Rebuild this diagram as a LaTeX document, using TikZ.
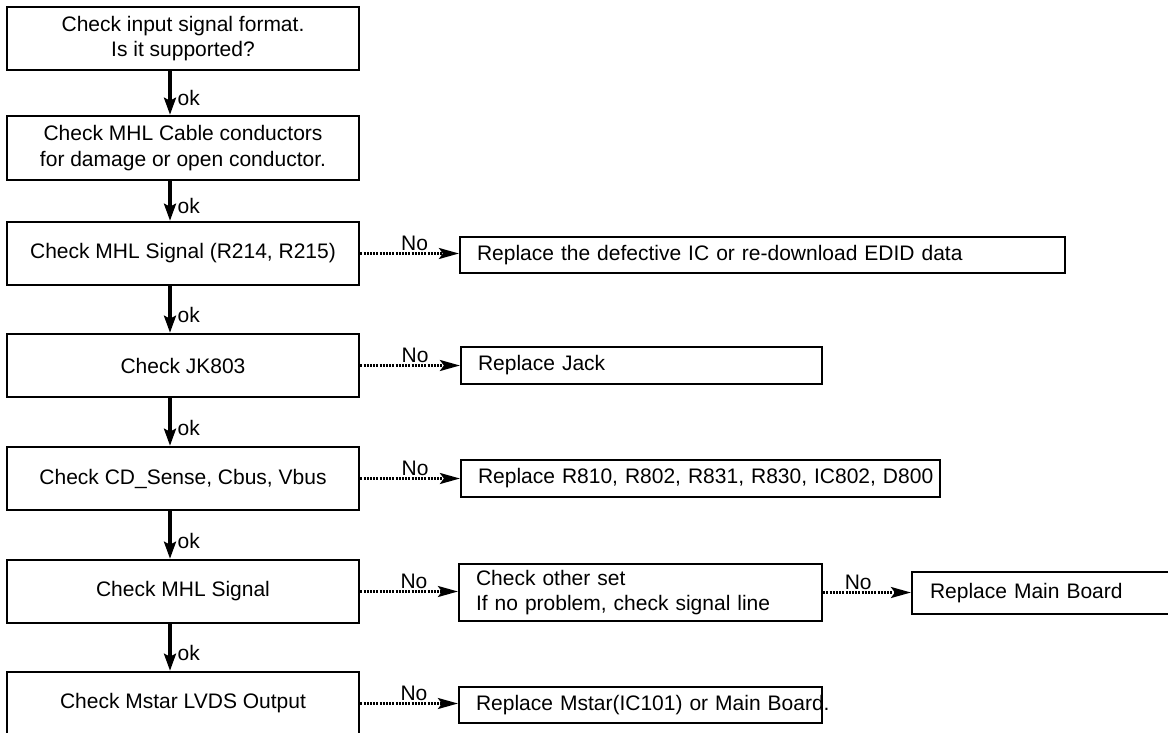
\documentclass[tikz,border=0pt]{standalone}
\usepackage{fontspec}
\setmainfont{Liberation Sans}
\usetikzlibrary{arrows.meta}
\begin{document}
\begin{tikzpicture}[x=1pt,y=-1pt,
  every node/.style={font=\fontsize{21}{25.5}\selectfont},
  lbox/.style={draw, line width=2.6pt, minimum width=352pt, minimum height=63pt, align=center, inner sep=0pt},
  rbox/.style={draw, line width=2.2pt, align=left, inner xsep=17pt, inner ysep=0pt},
  okarrow/.style={line width=3.2pt, -{Stealth[length=17pt,width=12pt,inset=3pt]}},
  noarrow/.style={line width=2.5pt, dash pattern=on 2pt off 1.2pt, -{Stealth[length=20pt,width=11pt,inset=4pt]}},
  oklabel/.style={anchor=west, inner sep=0pt, xshift=6pt},
  nolabel/.style={anchor=base, inner sep=0pt, yshift=3pt},
]
\useasboundingbox (0,0) rectangle (1168,733);

% left column
\node[lbox] (b1) at (183,38.5) {Check input signal format.\\Is it supported?};
\node[lbox, minimum height=64pt] (b2) at (183,148) {Check MHL Cable conductors\\for damage or open conductor.};
\node[lbox] (b3) at (183,253.5) {Check MHL Signal (R214, R215)};
\node[lbox] (b4) at (183,365.5) {Check JK803};
\node[lbox] (b5) at (183,478.5) {Check CD\_Sense, Cbus, Vbus};
\node[lbox] (b6) at (183,591.5) {Check MHL Signal};
\node[lbox] (b7) at (183,703.5) {Check Mstar LVDS Output};

% right boxes
\node[rbox, text width=571pt, minimum height=36pt] (r1) at (762.5,255) {\mbox{Replace the defective IC or re-download EDID data}};
\node[rbox, text width=327pt, minimum height=37pt] (r2) at (641.5,365.5) {Replace Jack};
\node[rbox, text width=445pt, minimum height=37pt] (r3) at (700.5,478.5) {\mbox{Replace R810, R802, R831, R830, IC802, D800}};
\node[rbox, text width=329pt, minimum height=57pt] (r4) at (640.5,592.5) {Check other set\\If no problem, check signal line};
\node[rbox, text width=329pt, minimum height=36pt] (r5) at (640.5,705) {\mbox{Replace Mstar(IC101) or Main Board.}};
\node[rbox, inner xsep=18pt, text width=224pt, minimum height=42pt] (r6) at (1042,593) {Replace Main Board};

% ok arrows
\draw[okarrow] ([xshift=-13pt]b1.south) -- node[oklabel,pos=0.62] (ok1) {ok} ([xshift=-13pt]b2.north);
\draw[okarrow] ([xshift=-13pt]b2.south) -- node[oklabel,pos=0.62] (ok2) {ok} ([xshift=-13pt]b3.north);
\draw[okarrow] ([xshift=-13pt]b3.south) -- node[oklabel,pos=0.62] (ok3) {ok} ([xshift=-13pt]b4.north);
\draw[okarrow] ([xshift=-13pt]b4.south) -- node[oklabel,pos=0.62] (ok4) {ok} ([xshift=-13pt]b5.north);
\draw[okarrow] ([xshift=-13pt]b5.south) -- node[oklabel,pos=0.62] (ok5) {ok} ([xshift=-13pt]b6.north);
\draw[okarrow] ([xshift=-13pt]b6.south) -- node[oklabel,pos=0.62] (ok6) {ok} ([xshift=-13pt]b7.north);

% no arrows
\draw[noarrow] (b3.east) -- node[nolabel,pos=0.55] (no1) {No} (b3.east -| r1.west);
\draw[noarrow] (b4.east) -- node[nolabel,pos=0.55] (no2) {No} (b4.east -| r2.west);
\draw[noarrow] (b5.east) -- node[nolabel,pos=0.55] (no3) {No} (b5.east -| r3.west);
\draw[noarrow] (b6.east) -- node[nolabel,pos=0.55] (no4) {No} (b6.east -| r4.west);
\draw[noarrow] (b7.east) -- node[nolabel,pos=0.55] (no5) {No} (b7.east -| r5.west);
\draw[noarrow] (r4.east) -- node[nolabel,pos=0.4] (no6) {No} (r4.east -| r6.west);
\end{tikzpicture}
\end{document}
